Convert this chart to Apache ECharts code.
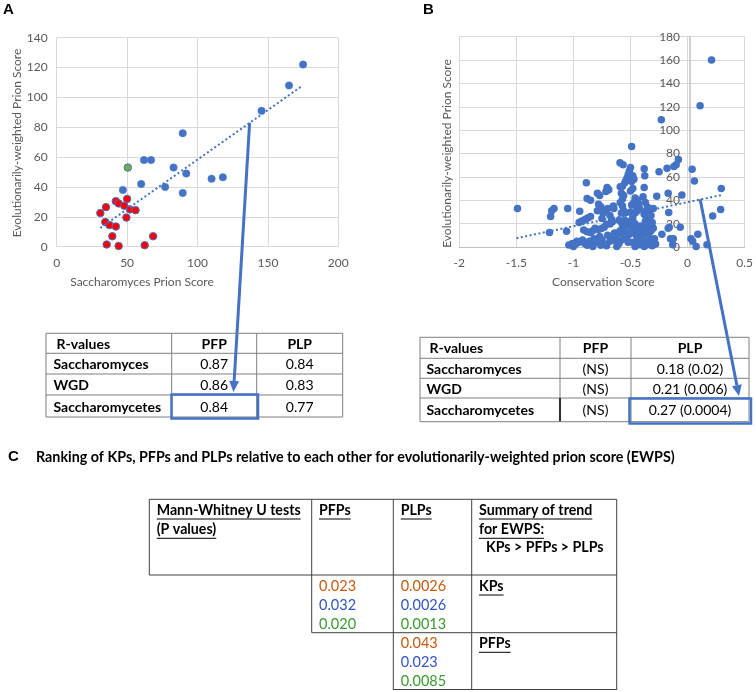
<!DOCTYPE html>
<html>
<head>
<meta charset="utf-8">
<script src="https://cdn.jsdelivr.net/npm/echarts@6.0.0/dist/echarts.min.js"></script>
<style>
html,body{margin:0;padding:0;background:#fff}
#main{width:756px;height:692px}
</style>
</head>
<body>
<div id="main"></div>
<script>
// panel A: Saccharomyces prion score vs evolutionarily-weighted prion score
const aBlue = [[175,122],[165,108],[145.5,91],[89.5,76],[62,58],[67,58],[83,53],[92,49],[110,45.5],[118,46.5],[77,40],[89.5,36],[60,42],[47,38]];
const aGreen = [[50.5,53]];
const aRed = [[31,22.5],[35,26.5],[42,30.5],[44,29],[50,32],[48,27.5],[52,25],[56,24.5],[49.5,19.5],[34.5,16.5],[37.5,14.5],[42,13.5],[39.5,7],[68.5,7],[35.5,1.5],[44,0.5],[62.5,1]];
const aTrend = [[31,12.5],[174,107.5]];

// panel B: conservation score vs evolutionarily-weighted prion score
const bPoints = [
  [-1.49,33],[-1.21,12.5],[-1.2,26],[-1.19,31],[-1.17,33],
  [-1.06,13.5],[-1.05,33],[-1.04,1.7],[-1.01,3],[-1.0,0.5],[-0.98,2.6],[-0.97,5],[-0.95,4],
  [-0.945,30.5],[-0.95,21],[-0.93,22],[-0.91,23],[-0.89,24],[-0.87,25],[-0.85,26],
  [-0.887,55],[-0.88,41.5],[-0.85,40],
  [-0.91,14.5],[-0.88,13],[-0.85,12.5],[-0.83,14],
  [-0.92,6],[-0.9,3],[-0.88,1.5],[-0.86,5],[-0.84,2.5],[-0.82,7],[-0.8,4],[-0.83,0.5],
  [-0.79,46],[-0.77,44],[-0.78,36.5],[-0.76,34.5],[-0.79,31],[-0.74,29],[-0.75,24.5],[-0.72,31],[-0.7,33],
  [-0.81,16],[-0.78,15],[-0.75,16],[-0.73,17],[-0.71,19.5],
  [-0.705,51],[-0.69,49],[-0.715,47.5],
  [-0.68,27],[-0.665,23],[-0.68,19.7],[-0.66,21.5],
  [-0.645,33],[-0.65,35],
  [-0.77,9],[-0.75,6],[-0.73,2.5],[-0.71,1],[-0.76,1.5],[-0.7,10],[-0.68,5],[-0.66,7],
  [-0.63,9],[-0.62,4],[-0.62,0.5],[-0.64,12],[-0.6,12.5],
  [-0.592,72.2],[-0.565,70.5],
  [-0.59,51.5],[-0.57,52],[-0.58,46],[-0.56,44],[-0.57,41],[-0.55,55],[-0.54,57],[-0.53,59],
  [-0.52,62],[-0.51,65],[-0.5,68],[-0.49,86],[-0.48,61],[-0.49,56],[-0.47,58],
  [-0.59,38],[-0.57,35],[-0.56,31],[-0.55,29],[-0.58,29],
  [-0.6,23],[-0.58,21],[-0.56,20],[-0.55,23],[-0.54,19],[-0.57,16],
  [-0.59,14],[-0.56,10],[-0.54,13],[-0.55,7],[-0.58,6],[-0.6,3],[-0.52,4],[-0.53,9],[-0.51,11],
  [-0.5,48],[-0.48,50],[-0.46,42],[-0.44,40],[-0.47,38],[-0.49,36],[-0.45,35],[-0.43,37],
  [-0.5,30],[-0.48,27],[-0.46,29],[-0.44,31],[-0.42,33],
  [-0.5,22],[-0.48,24],[-0.46,20],[-0.43,16],[-0.41,18],[-0.49,17],
  [-0.47,13],[-0.45,10],[-0.43,8],[-0.41,12],[-0.48,4],[-0.46,0.5],[-0.44,6],[-0.42,2],[-0.4,9],
  [-0.38,67],[-0.375,61],[-0.38,51],[-0.39,43],[-0.37,38],[-0.35,34],[-0.33,32],[-0.36,31],
  [-0.38,28],[-0.36,26],[-0.34,24],[-0.32,27],[-0.37,22],[-0.35,20],[-0.33,19],[-0.31,17],
  [-0.38,15],[-0.36,13],[-0.34,11],[-0.32,14],[-0.3,16],[-0.39,7],[-0.37,4],[-0.35,2],[-0.33,6],[-0.31,1],[-0.38,0.5],
  [-0.3,33],[-0.31,21],
  [-0.25,64.5],[-0.27,43.5],[-0.29,7],[-0.23,109],[-0.225,11],[-0.28,2.5],
  [-0.18,67.5],[-0.17,46],[-0.165,29.5],[-0.16,17],[-0.17,16],[-0.15,7],[-0.13,2],[-0.125,7],
  [-0.12,69],[-0.1,70.5],[-0.08,75],[-0.064,17],[-0.05,44.5],
  [0.03,7],[0.045,5],[0.04,66.5],[0.06,56.5],[0.075,0.5],[0.09,11],[0.11,121],[0.17,2],[0.21,160],[0.22,26.5],[0.29,32],[0.295,50]
];
const bTrend = [[-1.5,7.5],[0.3,44.5]];

// R-value tables
const rowNames = ['Saccharomyces','WGD','Saccharomycetes'];
const tableHeader = ['R-values','PFP','PLP'];
const aPFP = ['0.87','0.86','0.84'];
const aPLP = ['0.84','0.83','0.77'];
const bPFP = ['(NS)','(NS)','(NS)'];
const bPLP = ['0.18 (0.02)','0.21 (0.006)','0.27 (0.0004)'];

// panel C: Mann-Whitney P values (orange, blue, green)
const kpVsPFP = ['0.023','0.032','0.020'];
const kpVsPLP = ['0.0026','0.0026','0.0013'];
const pfpVsPLP = ['0.043','0.023','0.0085'];
const pColors = ['#c55a11','#2f55c8','#3a9a2e'];

const blue = '#4472c4';
const axisText = '#595959';
const gridCol = '#d9d9d9';

// grid B; the y axis is drawn where x = 0
const gridB = {left: 459.3, top: 36.7, width: 288.4, height: 210.3};
const bXMin = -2, bXMax = 0.5;
const bZeroShift = gridB.width * (0 - bXMin) / (bXMax - bXMin);

const chart = echarts.init(document.getElementById('main'));

const option = {
  animation: false,
  grid: [
    {left: 56.7, top: 37.7, width: 281.6, height: 209},
    gridB
  ],
  xAxis: [
    {gridIndex: 0, type: 'value', min: 0, max: 200, interval: 50,
     axisLine: {show: false}, axisTick: {show: false},
     axisLabel: {color: axisText, fontFamily: 'Lato', fontSize: 12, margin: 10},
     splitLine: {lineStyle: {color: gridCol}}},
    {gridIndex: 1, type: 'value', min: bXMin, max: bXMax, interval: 0.5,
     axisLine: {show: true, lineStyle: {color: '#bfbfbf'}}, axisTick: {show: false},
     axisLabel: {color: axisText, fontFamily: 'Lato', fontSize: 12, margin: 10},
     splitLine: {lineStyle: {color: gridCol}}}
  ],
  yAxis: [
    {gridIndex: 0, type: 'value', min: 0, max: 140, interval: 20,
     axisLine: {show: false}, axisTick: {show: false},
     axisLabel: {color: axisText, fontFamily: 'Lato', fontSize: 12, margin: 9},
     splitLine: {lineStyle: {color: gridCol}}},
    {gridIndex: 1, type: 'value', min: 0, max: 180, interval: 20,
     offset: -bZeroShift,
     axisLine: {show: true, onZero: false, lineStyle: {color: '#bfbfbf', width: 1.5}}, axisTick: {show: false},
     axisLabel: {color: axisText, fontFamily: 'Lato', fontSize: 12, margin: 10},
     splitLine: {lineStyle: {color: gridCol}}}
  ],
  series: [
    {type: 'scatter', xAxisIndex: 0, yAxisIndex: 0, data: aBlue, symbolSize: 7.5,
     itemStyle: {color: blue, borderColor: '#5b84cf', borderWidth: 0.5, opacity: 1}},
    {type: 'scatter', xAxisIndex: 0, yAxisIndex: 0, data: aRed, symbolSize: 7.5,
     itemStyle: {color: '#ff0000', borderColor: blue, borderWidth: 1, opacity: 1}},
    {type: 'scatter', xAxisIndex: 0, yAxisIndex: 0, data: aGreen, symbolSize: 7.5,
     itemStyle: {color: '#70ad47', borderColor: blue, borderWidth: 1, opacity: 1}},
    {type: 'line', xAxisIndex: 0, yAxisIndex: 0, data: aTrend, symbol: 'none', z: 5,
     lineStyle: {color: blue, width: 2, type: [2, 2.5]}},
    {type: 'scatter', xAxisIndex: 1, yAxisIndex: 1, data: bPoints, symbolSize: 7.5,
     itemStyle: {color: blue, opacity: 1}},
    {type: 'line', xAxisIndex: 1, yAxisIndex: 1, data: bTrend, symbol: 'none', z: 5,
     lineStyle: {color: blue, width: 2, type: [2, 2.5]}}
  ]
};
chart.setOption(option);

// ---- everything around the plots: labels, tables, arrows ----
const g = [];
const ctx = document.createElement('canvas').getContext('2d');
function txt(x, y, s, font, fill, align, rot) {
  const el = {type: 'text', x: x, y: y, z: 20,
    style: {text: s, font: font, fill: fill || '#000',
      align: align || 'left', textAlign: align || 'left',
      verticalAlign: 'middle', textVerticalAlign: 'middle'}};
  if (rot) el.rotation = rot;
  g.push(el);
}
function uline(x, y, s, font) {
  txt(x, y, s, font);
  ctx.font = font;
  const w = ctx.measureText(s).width;
  line(x, y + 9, x + w, y + 9, '#000', 1);
}
function line(x1, y1, x2, y2, col, w) {
  g.push({type: 'line', z: 15, shape: {x1: x1, y1: y1, x2: x2, y2: y2},
    style: {stroke: col, lineWidth: w}});
}
function box(x, y, w, h, col, lw) {
  g.push({type: 'rect', z: 16, shape: {x: x, y: y, width: w, height: h},
    style: {fill: 'none', stroke: col, lineWidth: lw}});
}
function arrow(p0, p1) {
  const dx = p1[0] - p0[0], dy = p1[1] - p0[1];
  const len = Math.sqrt(dx * dx + dy * dy);
  const ux = dx / len, uy = dy / len;
  const hl = 11, hw = 5;
  const bx = p1[0] - ux * hl, by = p1[1] - uy * hl;
  line(p0[0], p0[1], bx, by, blue, 3);
  g.push({type: 'polygon', z: 17, shape: {points: [
    [p1[0], p1[1]], [bx - uy * hw, by + ux * hw], [bx + uy * hw, by - ux * hw]]},
    style: {fill: blue}});
}

// panel letters and axis titles
txt(3, 10, 'A', 'bold 15px "Liberation Sans"');
txt(423, 10, 'B', 'bold 15px "Liberation Sans"');
txt(16.7, 143, 'Evolutionarily-weighted Prion Score', '12px Lato', axisText, 'center', Math.PI / 2);
txt(446.7, 153.5, 'Evolutionarily-weighted Prion Score', '12px Lato', axisText, 'center', Math.PI / 2);
txt(142, 281.7, 'Saccharomyces Prion Score', '12px Lato', axisText, 'center');
txt(603.3, 281.7, 'Conservation Score', '12px Lato', axisText, 'center');

// R-value table helper
function rTable(cols, rows, pfp, plp, nameX) {
  const tc = '#7f7f7f';
  box(cols[0], rows[0], cols[3] - cols[0], rows[4] - rows[0], tc, 1);
  for (let i = 1; i < 4; i++) line(cols[0], rows[i], cols[3], rows[i], tc, 1);
  line(cols[1], rows[0], cols[1], rows[4], tc, 1);
  line(cols[2], rows[0], cols[2], rows[4], tc, 1);
  const f = 'bold 14px Lato';
  const vf = '14px Lato';
  const cy = i => (rows[i] + rows[i + 1]) / 2 + 1;
  txt(nameX + 3, cy(0), tableHeader[0], f);
  txt((cols[1] + cols[2]) / 2, cy(0), tableHeader[1], f, '#000', 'center');
  txt((cols[2] + cols[3]) / 2, cy(0), tableHeader[2], f, '#000', 'center');
  for (let r = 0; r < 3; r++) {
    txt(nameX, cy(r + 1), rowNames[r], f);
    txt((cols[1] + cols[2]) / 2, cy(r + 1), pfp[r], vf, '#000', 'center');
    txt((cols[2] + cols[3]) / 2, cy(r + 1), plp[r], vf, '#000', 'center');
  }
}
const aCols = [46, 171.7, 256.7, 342.7], aRows = [333.3, 353.3, 374, 395, 417];
const bCols = [420, 560, 631, 749], bRows = [337.3, 358.3, 378.3, 398, 421.7];
rTable(aCols, aRows, aPFP, aPLP, 53.5);
rTable(bCols, bRows, bPFP, bPLP, 426.5);
line(bCols[1], bRows[3], bCols[1], bRows[4], '#000', 1.5);
box(171.5, 394.5, 86.5, 24, blue, 2.5);
box(629.5, 398.5, 121.5, 25, blue, 2.5);

// arrows from the trend lines to the highlighted cells
arrow(chart.convertToPixel({gridIndex: 0}, [137, 83]), [233.5, 392]);
arrow(chart.convertToPixel({gridIndex: 1}, [0.11, 41]), [739, 396]);

// panel C
txt(8, 457, 'C', 'bold 15px "Liberation Sans"');
txt(36, 457, 'Ranking of KPs, PFPs and PLPs relative to each other for evolutionarily-weighted prion score (EWPS)', 'bold 14.3px Lato');
const cx = [149.3, 311.7, 393.3, 471.7, 616.7], cyL = [499.3, 575, 632.7, 690];
const cc = '#404040';
line(cx[0], cyL[0], cx[4], cyL[0], cc, 1);
line(cx[0], cyL[1], cx[4], cyL[1], cc, 1);
line(cx[1], cyL[2], cx[4], cyL[2], cc, 1);
line(cx[2], cyL[3] - 0.5, cx[4], cyL[3] - 0.5, cc, 1);
line(cx[0], cyL[0], cx[0], cyL[1], cc, 1);
line(cx[1], cyL[0], cx[1], cyL[2], cc, 1);
line(cx[2], cyL[0], cx[2], cyL[3], cc, 1);
line(cx[3], cyL[0], cx[3], cyL[3], cc, 1);
line(cx[4], cyL[0], cx[4], cyL[3], cc, 1);
const hb = 'bold 14.2px Lato';
uline(156.7, 510, 'Mann-Whitney U tests', hb);
uline(156.7, 529.3, '(P values)', hb);
uline(319, 510, 'PFPs', hb);
uline(400.7, 510, 'PLPs', hb);
uline(479, 510, 'Summary of trend', hb);
uline(479, 529.3, 'for EWPS:', hb);
txt(486, 547.7, 'KPs > PFPs > PLPs', hb);
uline(479, 586, 'KPs', hb);
uline(479, 643.3, 'PFPs', hb);
const pf = '14.5px Lato';
for (let i = 0; i < 3; i++) {
  txt(319, 586 + i * 19, kpVsPFP[i], pf, pColors[i]);
  txt(400.7, 586 + i * 19, kpVsPLP[i], pf, pColors[i]);
  txt(400.7, 643.3 + i * 19, pfpVsPLP[i], pf, pColors[i]);
}

chart.setOption({graphic: g});
</script>
</body>
</html>
